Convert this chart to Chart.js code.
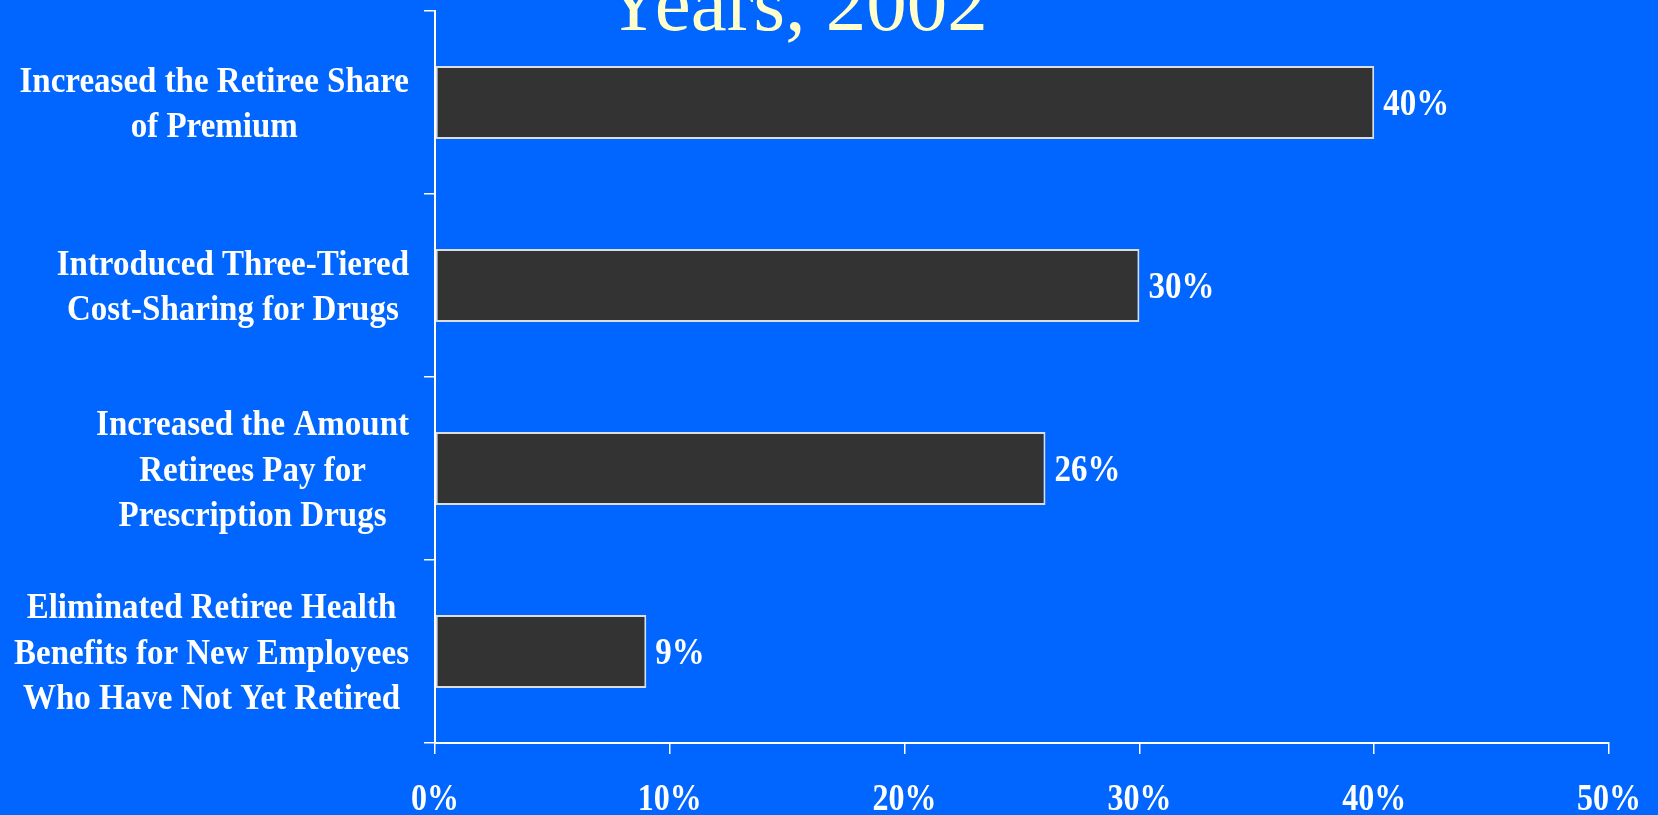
<!DOCTYPE html>
<html>
<head>
<meta charset="utf-8">
<script src="https://cdn.jsdelivr.net/npm/chart.js@4/dist/chart.umd.min.js"></script>
<style>
  html, body { margin: 0; padding: 0; background: #0066ff; }
  #wrap { width: 1658px; height: 815px; position: relative; }
</style>
</head>
<body>
<div id="wrap"><canvas id="grafico"></canvas></div>
<script>
// dados do gráfico
const categorias = [
  ['Increased the Retiree Share', 'of Premium'],
  ['Introduced Three-Tiered', 'Cost-Sharing for Drugs'],
  ['Increased the Amount', 'Retirees Pay for', 'Prescription Drugs'],
  ['Eliminated Retiree Health', 'Benefits for New Employees', 'Who Have Not Yet Retired']
];
const valores = [40, 30, 26, 9];
const titulo = 'Years, 2002';

const fonte = "'Liberation Serif', 'Times New Roman', serif";
const branco = '#ffffff';

// texto um pouco esticado na vertical, como nos slides
function textoAlto(ctx, txt, x, y, esticar) {
  ctx.save();
  ctx.translate(x, y);
  ctx.scale(1, esticar);
  ctx.fillText(txt, 0, 0);
  ctx.restore();
}

// rótulos das categorias: cada bloco centrado, encostado à direita do eixo
const rotulosCategoria = {
  id: 'rotulosCategoria',
  afterDraw(chart) {
    const { ctx } = chart;
    const y = chart.scales.y;
    const borda = 409;
    const passo = 45.7;
    ctx.save();
    ctx.font = 'bold 33px ' + fonte;
    ctx.fillStyle = branco;
    ctx.textAlign = 'center';
    ctx.textBaseline = 'alphabetic';
    categorias.forEach((linhas, i) => {
      const centro = y.getPixelForValue(i);
      const larg = Math.max(...linhas.map(l => ctx.measureText(l).width));
      const cx = borda - larg / 2;
      linhas.forEach((l, j) => {
        const meio = centro + (j - (linhas.length - 1) / 2) * passo;
        textoAlto(ctx, l, cx, meio + 12, 1.1);
      });
    });
    ctx.restore();
  }
};

// valor ao lado de cada barra
const rotulosValor = {
  id: 'rotulosValor',
  afterDatasetsDraw(chart) {
    const { ctx } = chart;
    const meta = chart.getDatasetMeta(0);
    ctx.save();
    ctx.font = 'bold 33px ' + fonte;
    ctx.fillStyle = branco;
    ctx.textAlign = 'left';
    ctx.textBaseline = 'alphabetic';
    meta.data.forEach((barra, i) => {
      textoAlto(ctx, valores[i] + '%', barra.x + 9, barra.y + 12.8, 1.15);
    });
    ctx.restore();
  }
};

// rótulos do eixo x, tirados dos ticks da escala
const rotulosEixoX = {
  id: 'rotulosEixoX',
  afterDraw(chart) {
    const { ctx } = chart;
    const x = chart.scales.x;
    ctx.save();
    ctx.font = 'bold 32px ' + fonte;
    ctx.fillStyle = branco;
    ctx.textAlign = 'center';
    ctx.textBaseline = 'alphabetic';
    x.ticks.forEach(t => {
      textoAlto(ctx, t.value + '%', x.getPixelForValue(t.value), x.bottom - 5, 1.16);
    });
    ctx.restore();
  }
};

// segunda linha do título, cortada no topo
const tituloTopo = {
  id: 'tituloTopo',
  afterDraw(chart) {
    const { ctx } = chart;
    ctx.save();
    ctx.font = '81px ' + fonte;
    ctx.fillStyle = '#ffffcc';
    ctx.textAlign = 'center';
    ctx.textBaseline = 'alphabetic';
    ctx.fillText(titulo, 796, 30);
    ctx.restore();
  }
};

new Chart(document.getElementById('grafico'), {
  type: 'bar',
  data: {
    labels: categorias,
    datasets: [{
      data: valores,
      backgroundColor: '#333333',
      borderColor: '#dddddd',
      borderWidth: 2,
      borderSkipped: false,
      categoryPercentage: 1,
      barPercentage: 0.4
    }]
  },
  options: {
    indexAxis: 'y',
    responsive: true,
    maintainAspectRatio: false,
    animation: false,
    layout: { padding: { top: 11, right: 49, left: 0, bottom: 0 } },
    plugins: {
      legend: { display: false },
      tooltip: { enabled: false }
    },
    scales: {
      x: {
        min: 0,
        max: 50,
        ticks: { stepSize: 10, display: false },
        grid: { drawOnChartArea: false, color: branco, lineWidth: 1.5, tickLength: 11 },
        border: { color: branco, width: 2 },
        afterFit(s) {
          s.height = 72;
          s.paddingLeft = 0;
          s.paddingRight = 0;
        }
      },
      y: {
        ticks: { display: false },
        grid: { drawOnChartArea: false, color: branco, lineWidth: 1.5, tickLength: 11, offset: true },
        border: { color: branco, width: 2 },
        afterFit(s) { s.width = 435; }
      }
    }
  },
  plugins: [rotulosCategoria, rotulosValor, rotulosEixoX, tituloTopo]
});
</script>
</body>
</html>
